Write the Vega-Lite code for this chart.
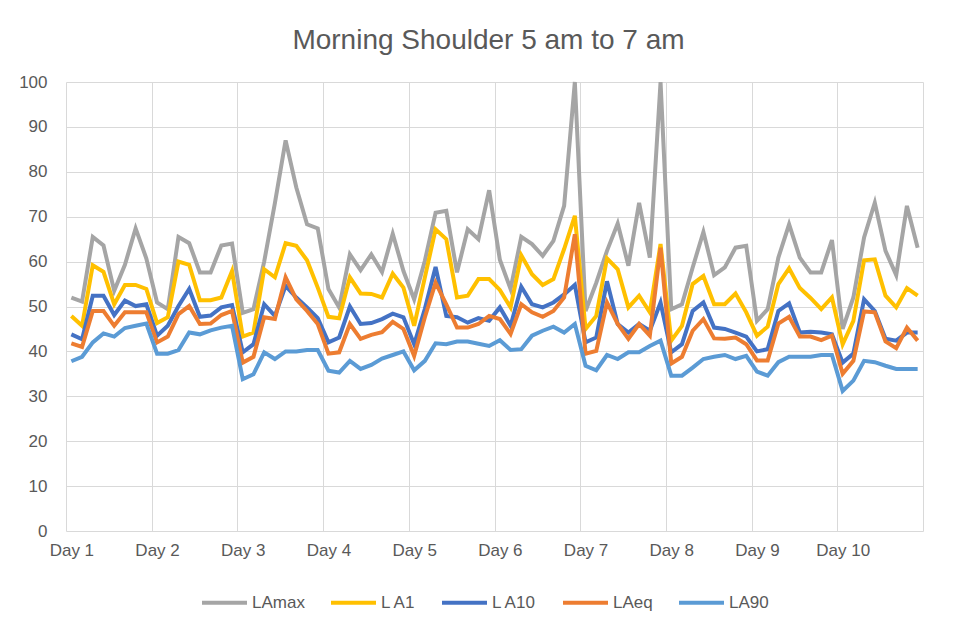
{
  "$schema": "https://vega.github.io/schema/vega-lite/v6.json",
  "width": 857,
  "height": 449,
  "autosize": {"type": "none"},
  "padding": {"left": 66, "top": 82, "right": 47, "bottom": 101},
  "background": "white",
  "title": {
    "text": "Morning Shoulder 5 am to 7 am",
    "font": "Liberation Sans",
    "fontSize": 28,
    "fontWeight": "normal",
    "color": "#595959",
    "anchor": "middle",
    "dx": -6,
    "offset": 18
  },
  "config": {
    "view": {"stroke": null},
    "font": "Liberation Sans",
    "axis": {
      "labelFont": "Liberation Sans",
      "labelFontSize": 17,
      "labelColor": "#595959",
      "gridColor": "#D9D9D9",
      "gridWidth": 1,
      "domain": false,
      "ticks": false,
      "tickSize": 0,
      "title": null
    }
  },
  "data": {
    "values": [
      {"i":0,"LAmax":52.0,"L A1":47.9,"L A10":43.8,"LAeq":41.8,"LA90":37.8},
      {"i":1,"LAmax":51.1,"L A1":45.7,"L A10":42.7,"LAeq":41.0,"LA90":38.8},
      {"i":2,"LAmax":65.5,"L A1":59.2,"L A10":52.4,"LAeq":49.0,"LA90":42.0},
      {"i":3,"LAmax":63.6,"L A1":57.7,"L A10":52.4,"LAeq":49.0,"LA90":44.0},
      {"i":4,"LAmax":53.5,"L A1":50.5,"L A10":48.1,"LAeq":45.7,"LA90":43.3},
      {"i":5,"LAmax":59.3,"L A1":54.8,"L A10":51.3,"LAeq":48.7,"LA90":45.2},
      {"i":6,"LAmax":67.4,"L A1":54.8,"L A10":50.1,"LAeq":48.7,"LA90":45.7},
      {"i":7,"LAmax":60.7,"L A1":53.9,"L A10":50.5,"LAeq":48.7,"LA90":46.2},
      {"i":8,"LAmax":50.9,"L A1":46.3,"L A10":43.5,"LAeq":42.0,"LA90":39.5},
      {"i":9,"LAmax":49.4,"L A1":47.6,"L A10":45.7,"LAeq":43.3,"LA90":39.5},
      {"i":10,"LAmax":65.5,"L A1":60.0,"L A10":50.1,"LAeq":48.3,"LA90":40.3},
      {"i":11,"LAmax":64.1,"L A1":59.3,"L A10":53.9,"LAeq":50.1,"LA90":44.2},
      {"i":12,"LAmax":57.6,"L A1":51.4,"L A10":47.7,"LAeq":46.1,"LA90":43.8},
      {"i":13,"LAmax":57.6,"L A1":51.4,"L A10":48.0,"LAeq":46.2,"LA90":44.7},
      {"i":14,"LAmax":63.6,"L A1":52.0,"L A10":49.8,"LAeq":48.1,"LA90":45.3},
      {"i":15,"LAmax":64.0,"L A1":57.9,"L A10":50.3,"LAeq":49.0,"LA90":45.7},
      {"i":16,"LAmax":48.6,"L A1":43.3,"L A10":39.8,"LAeq":37.5,"LA90":33.8},
      {"i":17,"LAmax":49.4,"L A1":44.2,"L A10":41.6,"LAeq":38.8,"LA90":34.9},
      {"i":18,"LAmax":60.0,"L A1":58.3,"L A10":50.5,"LAeq":47.6,"LA90":39.8},
      {"i":19,"LAmax":73.0,"L A1":56.5,"L A10":47.9,"LAeq":47.2,"LA90":38.3},
      {"i":20,"LAmax":87.0,"L A1":64.1,"L A10":54.6,"LAeq":56.5,"LA90":40.0},
      {"i":21,"LAmax":76.5,"L A1":63.5,"L A10":52.0,"LAeq":51.6,"LA90":40.0},
      {"i":22,"LAmax":68.3,"L A1":60.3,"L A10":49.8,"LAeq":49.0,"LA90":40.3},
      {"i":23,"LAmax":67.4,"L A1":54.2,"L A10":47.4,"LAeq":46.1,"LA90":40.3},
      {"i":24,"LAmax":53.9,"L A1":47.7,"L A10":42.0,"LAeq":39.5,"LA90":35.7},
      {"i":25,"LAmax":49.8,"L A1":47.4,"L A10":43.1,"LAeq":39.8,"LA90":35.3},
      {"i":26,"LAmax":61.6,"L A1":56.5,"L A10":50.0,"LAeq":46.1,"LA90":37.9},
      {"i":27,"LAmax":58.1,"L A1":52.9,"L A10":46.1,"LAeq":42.8,"LA90":36.1},
      {"i":28,"LAmax":61.6,"L A1":52.8,"L A10":46.3,"LAeq":43.7,"LA90":37.0},
      {"i":29,"LAmax":57.7,"L A1":52.0,"L A10":47.2,"LAeq":44.3,"LA90":38.4},
      {"i":30,"LAmax":66.2,"L A1":57.3,"L A10":48.4,"LAeq":46.6,"LA90":39.2},
      {"i":31,"LAmax":57.9,"L A1":54.2,"L A10":47.6,"LAeq":45.0,"LA90":40.0},
      {"i":32,"LAmax":51.6,"L A1":45.7,"L A10":41.6,"LAeq":39.0,"LA90":35.8},
      {"i":33,"LAmax":60.2,"L A1":56.5,"L A10":49.5,"LAeq":47.6,"LA90":37.9},
      {"i":34,"LAmax":70.9,"L A1":67.2,"L A10":58.8,"LAeq":55.3,"LA90":41.8},
      {"i":35,"LAmax":71.3,"L A1":65.0,"L A10":47.9,"LAeq":50.5,"LA90":41.6},
      {"i":36,"LAmax":57.6,"L A1":52.0,"L A10":47.6,"LAeq":45.3,"LA90":42.2},
      {"i":37,"LAmax":67.2,"L A1":52.4,"L A10":46.4,"LAeq":45.3,"LA90":42.2},
      {"i":38,"LAmax":65.0,"L A1":56.1,"L A10":47.4,"LAeq":46.1,"LA90":41.7},
      {"i":39,"LAmax":75.9,"L A1":56.1,"L A10":46.8,"LAeq":47.9,"LA90":41.2},
      {"i":40,"LAmax":60.4,"L A1":53.7,"L A10":49.8,"LAeq":47.2,"LA90":42.5},
      {"i":41,"LAmax":53.9,"L A1":49.8,"L A10":45.7,"LAeq":43.9,"LA90":40.3},
      {"i":42,"LAmax":65.5,"L A1":61.4,"L A10":54.4,"LAeq":50.5,"LA90":40.5},
      {"i":43,"LAmax":63.9,"L A1":57.2,"L A10":50.5,"LAeq":48.7,"LA90":43.5},
      {"i":44,"LAmax":61.3,"L A1":54.8,"L A10":49.8,"LAeq":47.7,"LA90":44.6},
      {"i":45,"LAmax":64.6,"L A1":56.1,"L A10":50.9,"LAeq":49.0,"LA90":45.5},
      {"i":46,"LAmax":72.4,"L A1":62.8,"L A10":52.7,"LAeq":52.0,"LA90":44.2},
      {"i":47,"LAmax":100,"L A1":70.2,"L A10":54.8,"LAeq":66.1,"LA90":46.1},
      {"i":48,"LAmax":49.0,"L A1":45.0,"L A10":42.0,"LAeq":39.5,"LA90":36.8},
      {"i":49,"LAmax":55.3,"L A1":47.9,"L A10":43.1,"LAeq":40.1,"LA90":35.8},
      {"i":50,"LAmax":62.4,"L A1":60.7,"L A10":55.6,"LAeq":50.9,"LA90":39.2},
      {"i":51,"LAmax":68.5,"L A1":58.3,"L A10":46.1,"LAeq":46.1,"LA90":38.3},
      {"i":52,"LAmax":59.1,"L A1":49.8,"L A10":44.2,"LAeq":42.8,"LA90":39.8},
      {"i":53,"LAmax":73.1,"L A1":52.4,"L A10":46.1,"LAeq":46.1,"LA90":39.8},
      {"i":54,"LAmax":60.9,"L A1":48.7,"L A10":44.6,"LAeq":43.5,"LA90":41.2},
      {"i":55,"LAmax":100,"L A1":63.9,"L A10":50.9,"LAeq":63.1,"LA90":42.4},
      {"i":56,"LAmax":49.4,"L A1":42.4,"L A10":39.8,"LAeq":37.3,"LA90":34.6},
      {"i":57,"LAmax":50.5,"L A1":45.7,"L A10":41.6,"LAeq":38.8,"LA90":34.6},
      {"i":58,"LAmax":58.7,"L A1":55.0,"L A10":49.0,"LAeq":44.6,"LA90":36.4},
      {"i":59,"LAmax":66.6,"L A1":56.8,"L A10":50.9,"LAeq":47.2,"LA90":38.3},
      {"i":60,"LAmax":57.0,"L A1":50.5,"L A10":45.3,"LAeq":42.9,"LA90":38.8},
      {"i":61,"LAmax":58.7,"L A1":50.5,"L A10":45.0,"LAeq":42.8,"LA90":39.2},
      {"i":62,"LAmax":63.1,"L A1":52.9,"L A10":44.2,"LAeq":43.1,"LA90":38.3},
      {"i":63,"LAmax":63.5,"L A1":48.7,"L A10":43.3,"LAeq":41.6,"LA90":39.0},
      {"i":64,"LAmax":46.8,"L A1":43.5,"L A10":40.0,"LAeq":38.0,"LA90":35.5},
      {"i":65,"LAmax":49.4,"L A1":45.5,"L A10":40.5,"LAeq":38.0,"LA90":34.6},
      {"i":66,"LAmax":60.9,"L A1":55.0,"L A10":49.0,"LAeq":46.2,"LA90":37.6},
      {"i":67,"LAmax":68.3,"L A1":58.5,"L A10":50.7,"LAeq":47.7,"LA90":38.8},
      {"i":68,"LAmax":60.9,"L A1":54.1,"L A10":44.2,"LAeq":43.3,"LA90":38.8},
      {"i":69,"LAmax":57.6,"L A1":51.9,"L A10":44.4,"LAeq":43.3,"LA90":38.8},
      {"i":70,"LAmax":57.6,"L A1":49.4,"L A10":44.2,"LAeq":42.5,"LA90":39.2},
      {"i":71,"LAmax":64.8,"L A1":52.0,"L A10":43.8,"LAeq":43.5,"LA90":39.2},
      {"i":72,"LAmax":45.0,"L A1":41.6,"L A10":37.5,"LAeq":35.0,"LA90":31.2},
      {"i":73,"LAmax":52.0,"L A1":46.8,"L A10":39.5,"LAeq":37.9,"LA90":33.5},
      {"i":74,"LAmax":65.4,"L A1":60.3,"L A10":51.6,"LAeq":48.9,"LA90":37.9},
      {"i":75,"LAmax":73.1,"L A1":60.5,"L A10":49.0,"LAeq":48.7,"LA90":37.6},
      {"i":76,"LAmax":62.4,"L A1":52.4,"L A10":42.8,"LAeq":42.2,"LA90":36.8},
      {"i":77,"LAmax":57.0,"L A1":49.8,"L A10":42.4,"LAeq":40.7,"LA90":36.1},
      {"i":78,"LAmax":72.4,"L A1":54.1,"L A10":44.2,"LAeq":45.3,"LA90":36.1},
      {"i":79,"LAmax":63.1,"L A1":52.4,"L A10":44.2,"LAeq":42.4,"LA90":36.1}
    ]
  },
  "transform": [
    {"fold": ["LAmax", "L A1", "L A10", "LAeq", "LA90"], "as": ["series", "value"]}
  ],
  "encoding": {
    "x": {
      "field": "i",
      "type": "quantitative",
      "scale": {"domain": [-0.5, 79.5], "nice": false, "zero": false},
      "axis": {
        "values": [-0.5, 7.5, 15.5, 23.5, 31.5, 39.5, 47.5, 55.5, 63.5, 71.5, 79.5],
        "grid": true,
        "labelExpr": "datum.value < 79 ? 'Day ' + (round((datum.value + 0.5) / 8) + 1) : ''",
        "labelOffset": 5.36,
        "labelAlign": "center",
        "labelFlush": false,
        "labelOverlap": false,
        "labelBound": false,
        "labelPadding": 11
      }
    },
    "y": {
      "field": "value",
      "type": "quantitative",
      "scale": {"domain": [0, 100], "nice": false},
      "axis": {
        "values": [0, 10, 20, 30, 40, 50, 60, 70, 80, 90, 100],
        "grid": true,
        "labelPadding": 19
      }
    },
    "color": {
      "field": "series",
      "type": "nominal",
      "scale": {
        "domain": ["LAmax", "L A1", "L A10", "LAeq", "LA90"],
        "range": ["#A5A5A5", "#FFC000", "#4472C4", "#ED7D31", "#5B9BD5"]
      },
      "legend": {
        "title": null,
        "orient": "none",
        "direction": "horizontal",
        "legendX": 134,
        "legendY": 496,
        "symbolType": "stroke",
        "symbolSize": 2025,
        "symbolStrokeWidth": 4,
        "labelFont": "Liberation Sans",
        "labelFontSize": 17,
        "labelColor": "#595959",
        "labelOffset": 3,
        "columnPadding": 18
      }
    }
  },
  "layer": [
    {"transform": [{"filter": "datum.series === 'LAmax'"}], "mark": {"type": "line", "strokeWidth": 4}},
    {"transform": [{"filter": "datum.series === 'L A1'"}], "mark": {"type": "line", "strokeWidth": 4}},
    {"transform": [{"filter": "datum.series === 'L A10'"}], "mark": {"type": "line", "strokeWidth": 4}},
    {"transform": [{"filter": "datum.series === 'LAeq'"}], "mark": {"type": "line", "strokeWidth": 4}},
    {"transform": [{"filter": "datum.series === 'LA90'"}], "mark": {"type": "line", "strokeWidth": 4}}
  ]
}
